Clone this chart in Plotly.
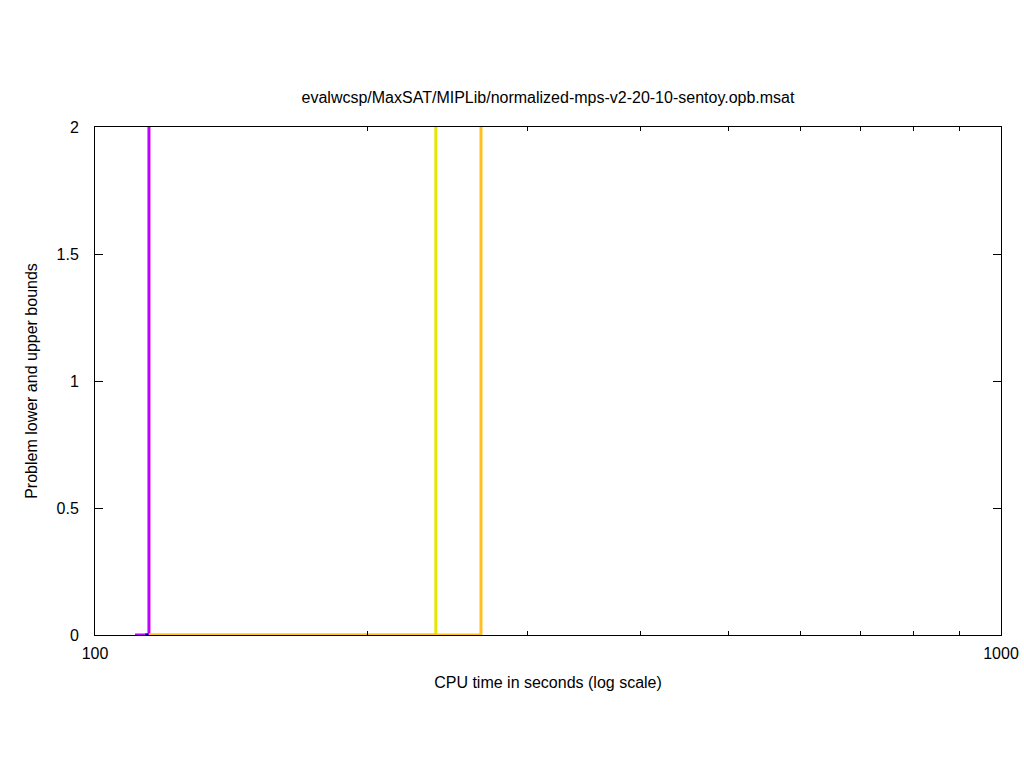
import plotly.graph_objects as go

title = "evalwcsp/MaxSAT/MIPLib/normalized-mps-v2-20-10-sentoy.opb.msat"

# step series: (x times, y bounds)
purple_x = [110.7, 114.7, 114.7]
purple_y = [0, 0, 2]
blue_x = [113.6, 114.5]
blue_y = [0, 0]
yellow_x = [114.7, 237.8, 237.8]
yellow_y = [0, 0, 2]
orange_x = [114.7, 266.7, 266.7]
orange_y = [0, 0, 2]

x_ticks = [100, 1000]
x_minor = [200, 300, 400, 500, 600, 700, 800, 900]
y_ticks = [0, 0.5, 1, 1.5, 2]
y_labels = ["0", "0.5", "1", "1.5", "2"]

fig = go.Figure()
series = [
    (purple_x, purple_y, "#c000ff"),
    (blue_x, blue_y, "#000090"),
    (yellow_x, yellow_y, "#e6e600"),
    (orange_x, orange_y, "#ffc020"),
]
for xs, ys, col in series:
    fig.add_trace(go.Scatter(x=xs, y=ys, mode="lines",
                             line=dict(color=col, width=3), showlegend=False,
                             cliponaxis=False))

W, H = 1024, 768
font = dict(family="Liberation Sans, Arial, sans-serif", size=16, color="black")
fig.update_layout(
    width=W, height=H,
    paper_bgcolor="white", plot_bgcolor="white",
    margin=dict(l=95, r=23, t=127, b=133, autoexpand=False),
    font=font,
    title=dict(text=title, x=548 / W, xanchor="center", y=1 - 97 / H, yanchor="middle",
               font=dict(size=16), automargin=False),
    xaxis=dict(type="log", range=[2, 3], tickvals=x_ticks, ticktext=["100", "1000"],
               tickfont=dict(size=16), automargin=False, ticklabeloverflow="allow",
               ticks="inside", ticklen=8, tickcolor="black", showline=True, linecolor="black",
               linewidth=1, mirror="allticks", showgrid=False, zeroline=False,
               minor=dict(tickvals=x_minor, ticks="inside", ticklen=4, tickcolor="black",
                          showgrid=False),
               title=dict(text="CPU time in seconds (log scale)", standoff=15,
                          font=dict(size=16)),
               ticklabelstandoff=4),
    yaxis=dict(range=[0, 2], tickvals=y_ticks, ticktext=y_labels, ticks="inside", ticklen=8,
               tickfont=dict(size=16), automargin=False,
               tickcolor="black", showline=True, linecolor="black", linewidth=1,
               mirror="allticks", showgrid=False, zeroline=False,
               title=dict(text="Problem lower and upper bounds", standoff=14,
                          font=dict(size=16)),
               ticklabelstandoff=12),
)
fig.write_html(
    "out.html",
    config={"displayModeBar": False},
    post_script="document.body.style.margin='0';document.body.style.overflow='hidden';",
)
